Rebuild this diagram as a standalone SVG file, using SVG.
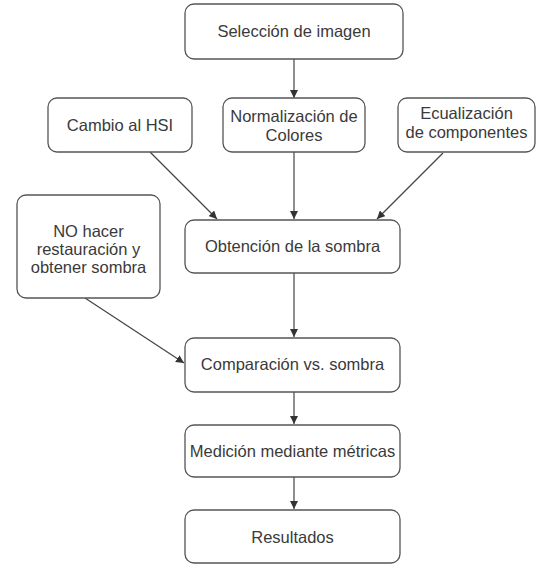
<svg xmlns="http://www.w3.org/2000/svg" width="537" height="565" viewBox="0 0 537 565">
<style>
.b{fill:#fff;stroke:#555;stroke-width:1.3}
.t{font-family:"Liberation Sans",Arial,sans-serif;font-size:16.5px;fill:#3a3a3a;text-anchor:middle}
.c{stroke:#444;stroke-width:1.2;fill:none;marker-end:url(#a)}
</style>
<defs>
<marker id="a" viewBox="0 0 10 10" refX="10" refY="5" markerWidth="8" markerHeight="8" markerUnits="userSpaceOnUse" orient="auto">
<path d="M0,0L10,5L0,10z" fill="#333"/>
</marker>
</defs>
<rect width="537" height="565" fill="#fff"/>
<g id="connectors">
<line class="c" x1="294" y1="59" x2="294" y2="98"/>
<line class="c" x1="294" y1="152" x2="294" y2="219"/>
<line class="c" x1="150" y1="152" x2="217" y2="219"/>
<line class="c" x1="443" y1="153" x2="377" y2="219"/>
<line class="c" x1="294" y1="273" x2="294" y2="337"/>
<line class="c" x1="85" y1="298" x2="184" y2="363"/>
<line class="c" x1="294" y1="392" x2="294" y2="424"/>
<line class="c" x1="294" y1="477" x2="294" y2="509"/>
</g>
<g id="n1"><rect class="b" x="185" y="4" width="218" height="55" rx="9"/><text class="t" x="294" y="37">Selección de imagen</text></g>
<g id="n2"><rect class="b" x="48" y="98" width="144" height="54" rx="9"/><text class="t" x="120" y="131">Cambio al HSI</text></g>
<g id="n3"><rect class="b" x="223" y="98" width="142" height="54" rx="9"/><text class="t" x="294" y="122">Normalización de</text><text class="t" x="294" y="141">Colores</text></g>
<g id="n4"><rect class="b" x="398" y="98" width="137" height="54" rx="9"/><text class="t" x="466.5" y="119">Ecualización</text><text class="t" x="466.5" y="138">de componentes</text></g>
<g id="n5"><rect class="b" x="17" y="195" width="143" height="103" rx="9"/><text class="t" x="88.5" y="237">NO hacer</text><text class="t" x="88.5" y="255">restauración y</text><text class="t" x="88.5" y="273">obtener sombra</text></g>
<g id="n6"><rect class="b" x="185" y="220" width="215" height="53" rx="9"/><text class="t" x="292.5" y="252">Obtención de la sombra</text></g>
<g id="n7"><rect class="b" x="185" y="338" width="215" height="54" rx="9"/><text class="t" x="292.5" y="370">Comparación vs. sombra</text></g>
<g id="n8"><rect class="b" x="185" y="425" width="215" height="52" rx="9"/><text class="t" x="292.5" y="457">Medición mediante métricas</text></g>
<g id="n9"><rect class="b" x="185" y="510" width="215" height="53" rx="9"/><text class="t" x="292.5" y="543">Resultados</text></g>
</svg>
